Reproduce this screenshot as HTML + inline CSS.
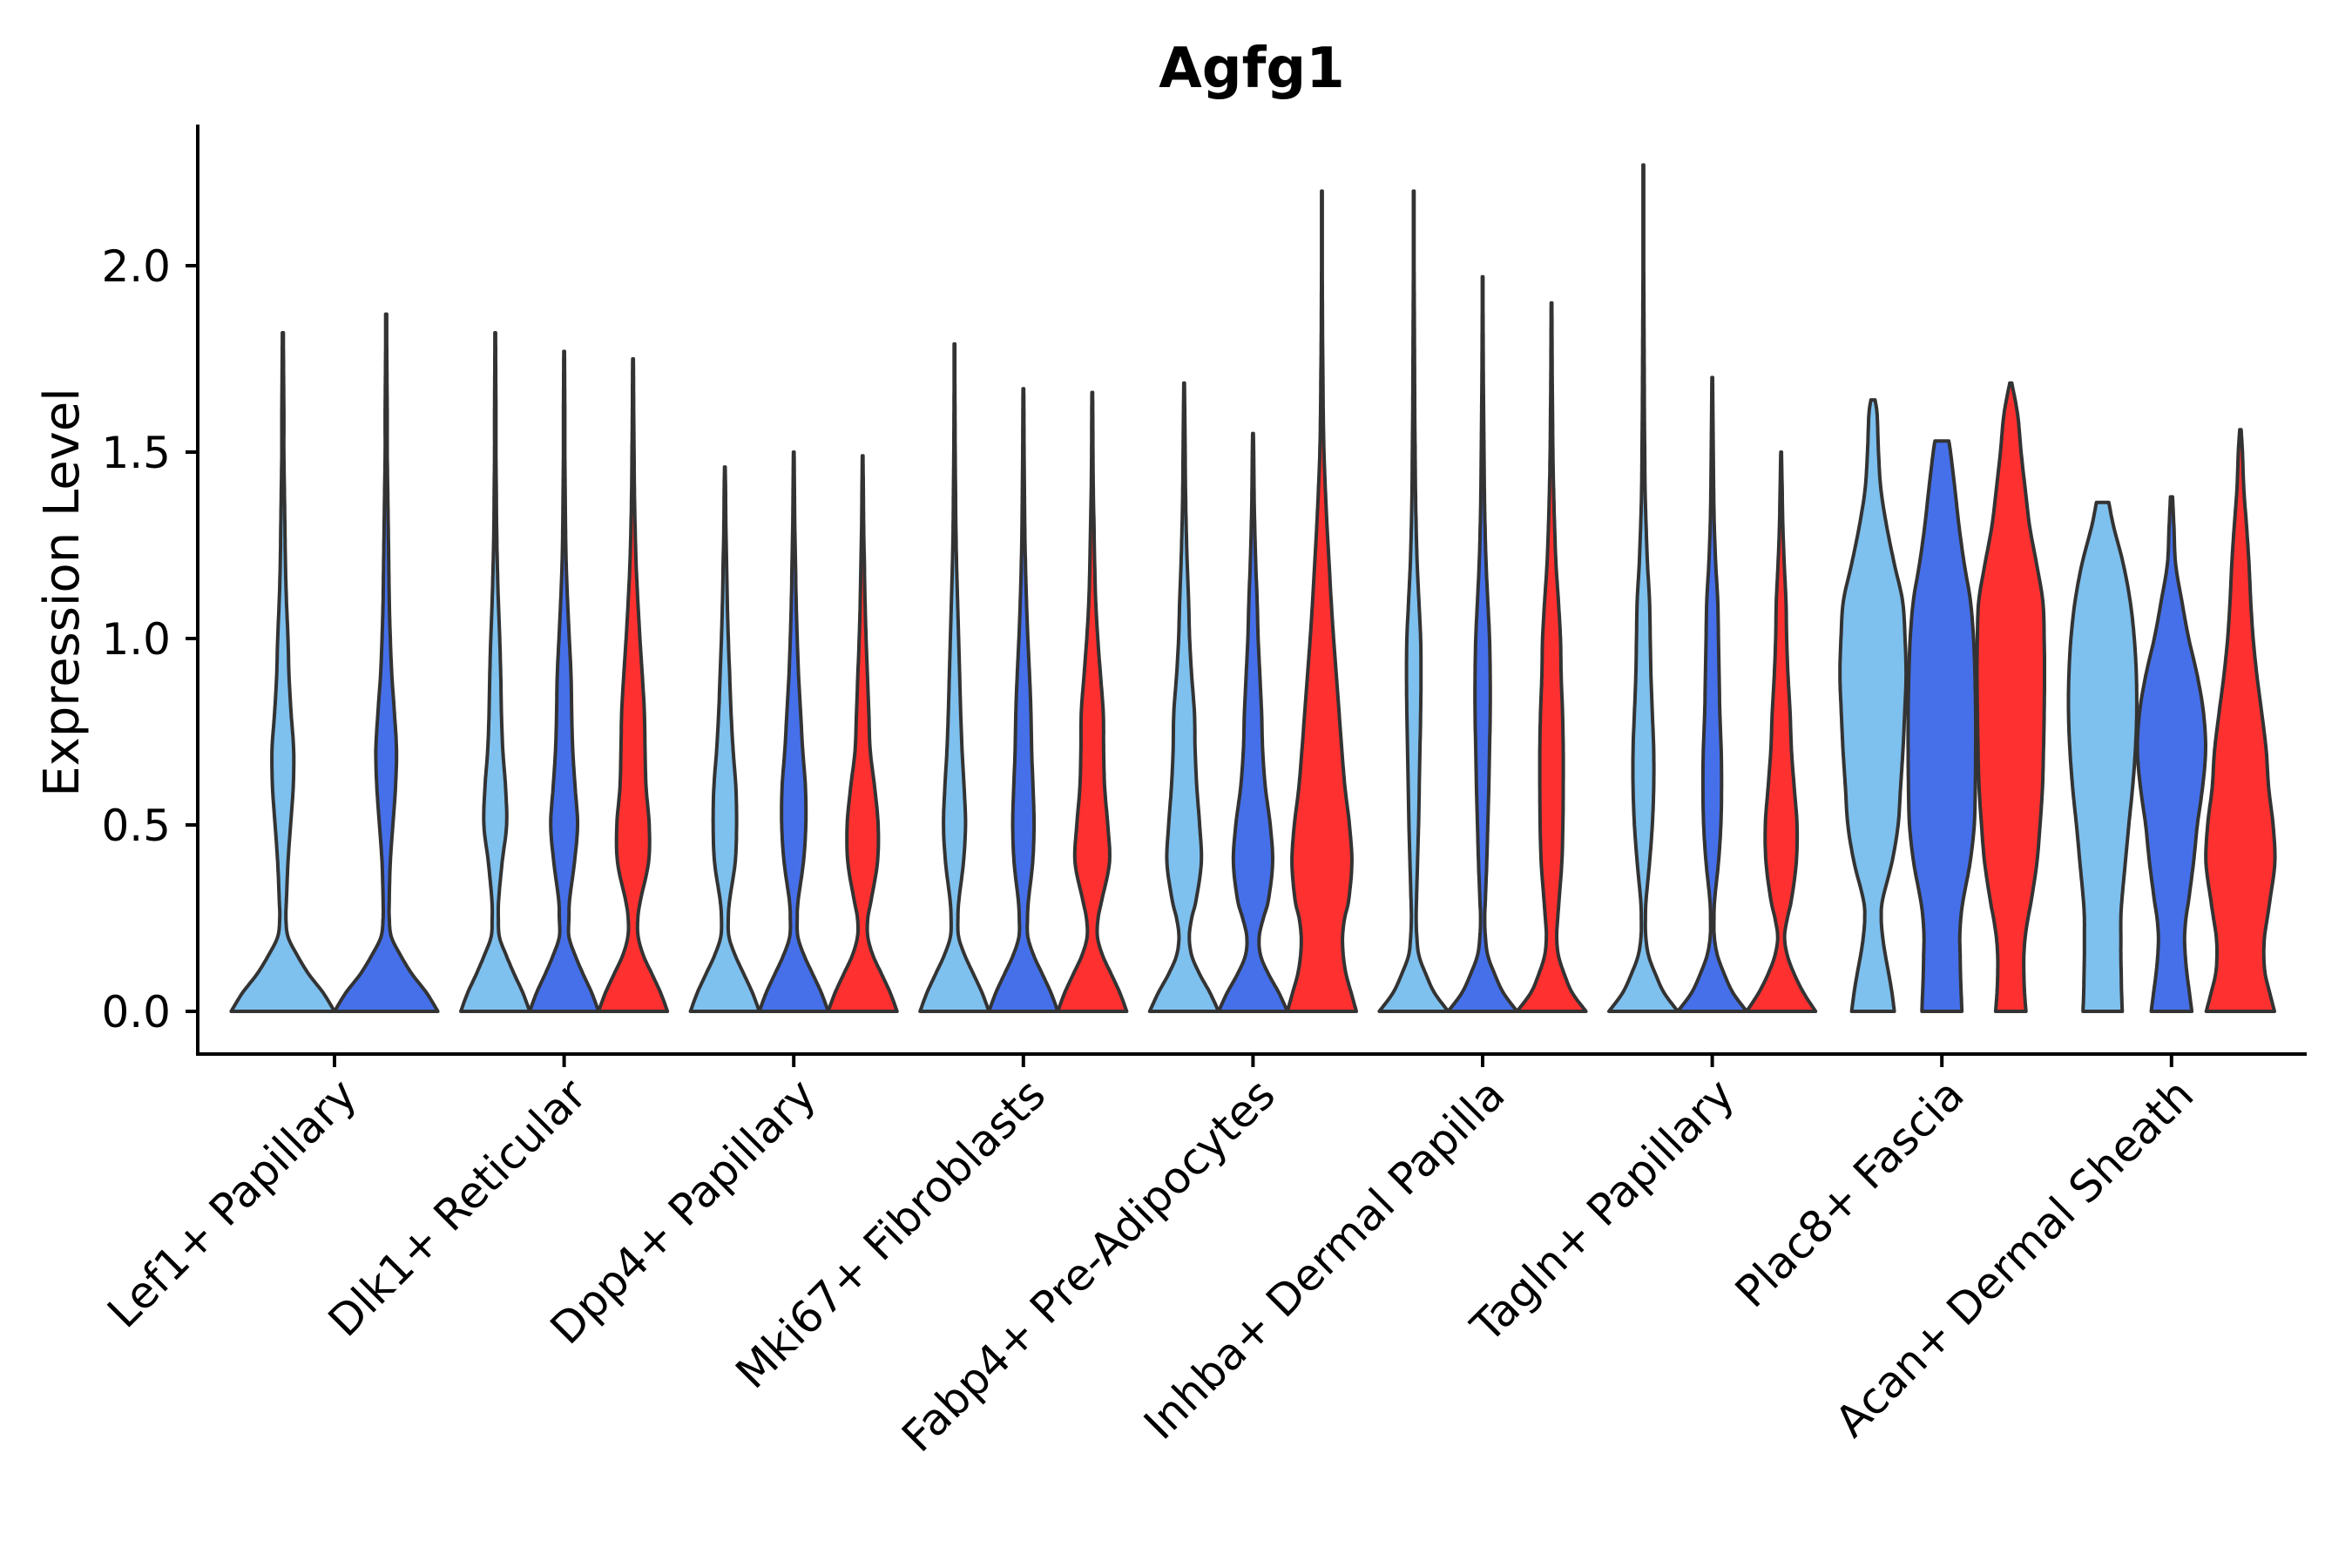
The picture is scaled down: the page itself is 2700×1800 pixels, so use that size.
<!DOCTYPE html>
<html><head><meta charset="utf-8"><style>
html,body{margin:0;padding:0;background:#fff;}
svg{display:block;font-family:"DejaVu Sans","Liberation Sans",sans-serif;}
</style></head><body>
<svg id="chart" width="2700" height="1800" viewBox="0 0 2700 1800" xmlns="http://www.w3.org/2000/svg">
<text x="1437" y="100" text-anchor="middle" font-size="64" font-weight="bold">Agfg1</text>
<text transform="translate(90,680) rotate(-90)" text-anchor="middle" font-size="56">Expression Level</text>
<g id="axes"></g>
<g id="violins"></g>
</svg>
<script>
const categories = ["Lef1+ Papillary","Dlk1+ Reticular","Dpp4+ Papillary","Mki67+ Fibroblasts","Fabp4+ Pre-Adipocytes","Inhba+ Dermal Papilla","Tagln+ Papillary","Plac8+ Fascia","Acan+ Dermal Sheath"];
const yTicks = [0, 0.5, 1.0, 1.5, 2.0];
const yTickLabels = ["0.0","0.5","1.0","1.5","2.0"];
const seriesNames = ["light","blue","red"];
const groupSeries = [[0,1],[0,1,2],[0,1,2],[0,1,2],[0,1,2],[0,1,2],[0,1,2],[0,1,2],[0,1,2]];
const levels = [0,0.05,0.1,0.15,0.2,0.25,0.3,0.4,0.5,0.6,0.7,0.8,0.9,1.0,1.1,1.2,1.3,1.4,1.5,1.6,1.7,1.8,1.9,2.0,2.1,2.2,2.3];
const maxVals = [
 [1.82,1.87],
 [1.82,1.77,1.75],
 [1.46,1.50,1.49],
 [1.79,1.67,1.66],
 [1.685,1.55,2.2],
 [2.2,1.97,1.9],
 [2.27,1.70,1.50],
 [1.64,1.53,1.685],
 [1.365,1.38,1.56]
];
const capWidths = [
 [0.01,0.01],[0.01,0.01,0.01],[0.01,0.01,0.01],[0.01,0.01,0.01],[0.01,0.01,0.01],
 [0.01,0.01,0.01],[0.01,0.01,0.01],[0.06,0.2,0.03],[0.18,0.03,0.02]
];
const widths = [
 [[1,.78,.5,.28,.1,.06,.07,.1,.15,.2,.21,.16,.12,.1,.07,.05,.04,.03,.02,.02,.015,.01],
  [1,.78,.5,.28,.1,.06,.06,.08,.13,.18,.2,.16,.11,.08,.06,.05,.04,.03,.02,.02,.015,.01]],
 [[1,.8,.55,.32,.12,.09,.1,.2,.33,.3,.22,.18,.16,.13,.09,.06,.04,.03,.02,.02,.015,.01],
  [1,.8,.55,.32,.14,.14,.16,.3,.39,.32,.25,.22,.2,.15,.1,.06,.04,.03,.02,.02,.015],
  [1,.8,.55,.3,.15,.14,.22,.45,.47,.38,.35,.33,.27,.2,.14,.09,.06,.04,.03,.02,.015]],
 [[1,.8,.55,.3,.12,.1,.14,.3,.34,.32,.24,.18,.14,.1,.07,.05,.03,.02],
  [1,.8,.55,.3,.12,.1,.13,.28,.35,.34,.26,.2,.14,.1,.07,.05,.03,.02,.01],
  [1,.8,.55,.3,.15,.15,.25,.43,.45,.35,.22,.18,.14,.1,.07,.05,.03,.02]],
 [[1,.8,.55,.3,.12,.1,.13,.26,.32,.28,.22,.18,.15,.12,.09,.06,.04,.03,.02,.015,.01],
  [1,.8,.55,.3,.13,.12,.15,.27,.31,.28,.24,.22,.18,.13,.09,.06,.04,.03,.02,.015],
  [1,.8,.55,.3,.15,.17,.28,.5,.45,.36,.33,.32,.24,.16,.1,.07,.05,.03,.02,.015]],
 [[1,.75,.45,.22,.15,.22,.35,.5,.45,.37,.32,.3,.22,.16,.13,.09,.06,.04,.03,.02],
  [1,.75,.45,.22,.18,.3,.45,.57,.5,.36,.28,.25,.2,.15,.12,.08,.05,.03,.02],
  [1,.85,.7,.62,.6,.66,.78,.87,.8,.67,.58,.5,.42,.34,.27,.21,.15,.1,.06,.04,.03,.02,.015,.01,.01]],
 [[1,.6,.35,.15,.09,.07,.08,.11,.14,.16,.18,.2,.21,.2,.15,.1,.07,.05,.04,.03,.025,.02,.015,.01,.01],
  [1,.6,.35,.15,.08,.06,.08,.12,.15,.18,.2,.22,.22,.2,.15,.1,.07,.05,.04,.03,.02,.015,.01],
  [1,.6,.37,.2,.15,.18,.22,.3,.33,.34,.34,.32,.28,.26,.2,.13,.09,.06,.04,.03,.02,.015]],
 [[1,.6,.35,.15,.07,.06,.08,.18,.26,.3,.3,.26,.22,.2,.18,.12,.08,.05,.04,.03,.025,.02,.015,.01,.01,.01],
  [1,.6,.35,.15,.06,.05,.07,.18,.25,.27,.26,.22,.2,.18,.16,.1,.06,.04,.03,.02],
  [1,.65,.38,.18,.1,.18,.3,.44,.46,.38,.3,.26,.2,.16,.14,.09,.05,.03]],
 [[.62,.55,.46,.36,.28,.24,.28,.55,.73,.8,.87,.92,.96,.93,.86,.62,.4,.23,.16,.12],
  [.58,.56,.54,.53,.52,.55,.62,.82,.94,.97,.98,.98,.96,.92,.83,.65,.5,.38,.25],
  [.44,.4,.38,.38,.42,.5,.6,.76,.85,.92,.95,.97,.98,.97,.93,.75,.55,.42,.3,.2]],
 [[.57,.55,.54,.53,.53,.53,.56,.66,.76,.87,.95,.99,.98,.92,.8,.6,.32],
  [.59,.52,.45,.4,.38,.42,.5,.64,.75,.9,.99,.93,.75,.5,.3,.12,.07],
  [.99,.85,.72,.68,.7,.78,.86,1.0,.95,.82,.75,.62,.48,.37,.3,.25,.18,.1,.06]]
];
const colors = {light:"#7EC0EE", blue:"#4570EA", red:"#FF3030"};

const NS = "http://www.w3.org/2000/svg";
const X0 = 227, XEND = 2648, AXY = 1210;
const ZERO_Y = 1161, PX_PER_UNIT = 428;
const G0 = 384, GSTEP = 263.6;
function yScale(v){ return ZERO_Y - v*PX_PER_UNIT; }
function xGroup(i){ return G0 + i*GSTEP; }
function mk(tag, attrs, parent){ const e=document.createElementNS(NS,tag); for(const k in attrs) e.setAttribute(k,attrs[k]); parent.appendChild(e); return e; }

const axes = document.getElementById('axes');
const yAxis = mk('line',{x1:X0,y1:143,x2:X0,y2:AXY+2,stroke:'#000','stroke-width':4},axes);


const xAxis = mk('line',{x1:X0-2,y1:AXY,x2:XEND,y2:AXY,stroke:'#000','stroke-width':4},axes);


yTicks.forEach((v,i)=>{
  const y=yScale(v);
  const t=mk('line',{x1:X0-14,y1:y,x2:X0,y2:y,stroke:'#000','stroke-width':4},axes);
  
  
  const l=mk('text',{x:196,y:y+18,'text-anchor':'end','font-size':50},axes);
  l.textContent=yTickLabels[i];
  
  
});
categories.forEach((c,i)=>{
  const x=xGroup(i);
  const t=mk('line',{x1:x,y1:AXY,x2:x,y2:AXY+15,stroke:'#000','stroke-width':4},axes);
  
  
  const l=mk('text',{transform:`translate(${x+28},${AXY+50}) rotate(-45)`,'text-anchor':'end','font-size':50},axes);
  l.textContent=c;
  
  
});

function smooth(pts, n){
  const out=[];
  for(let i=0;i<pts.length-1;i++){
    const p0=pts[Math.max(0,i-1)], p1=pts[i], p2=pts[i+1], p3=pts[Math.min(pts.length-1,i+2)];
    for(let k=0;k<n;k++){
      const t=k/n, t2=t*t, t3=t2*t;
      const f=(a,b,c,d)=>0.5*((2*b)+(-a+c)*t+(2*a-5*b+4*c-d)*t2+(-a+3*b-3*c+d)*t3);
      out.push([f(p0[0],p1[0],p2[0],p3[0]), Math.max(0.004,f(p0[1],p1[1],p2[1],p3[1]))]);
    }
  }
  out.push(pts[pts.length-1]);
  return out;
}
const vg=document.getElementById('violins');
categories.forEach((c,gi)=>{
  const ser=groupSeries[gi];
  const n=ser.length;
  const sub = 0.9*GSTEP/n;
  ser.forEach((s,si)=>{
    const cx = xGroup(gi) + (si-(n-1)/2)*sub;
    const hw = sub/2;
    const mx = maxVals[gi][si];
    const w = widths[gi][si];
    const pts=[];
    for(let k=0;k<w.length;k++){ if(levels[k]<mx) pts.push([levels[k],w[k]]); }
    pts.push([mx, capWidths[gi][si]]);
    const sp=smooth(pts,8);
    let d='';
    sp.forEach((p,k)=>{ d+=(k?'L':'M')+(cx+p[1]*hw).toFixed(1)+','+yScale(p[0]).toFixed(1); });
    for(let k=sp.length-1;k>=0;k--){ const p=sp[k]; d+='L'+(cx-p[1]*hw).toFixed(1)+','+yScale(p[0]).toFixed(1); }
    d+='Z';
    const path=mk('path',{d:d,fill:colors[seriesNames[s]],stroke:'#333','stroke-width':4,'stroke-linejoin':'round'},vg);
    
    
  });
});
</script>
</body></html>
